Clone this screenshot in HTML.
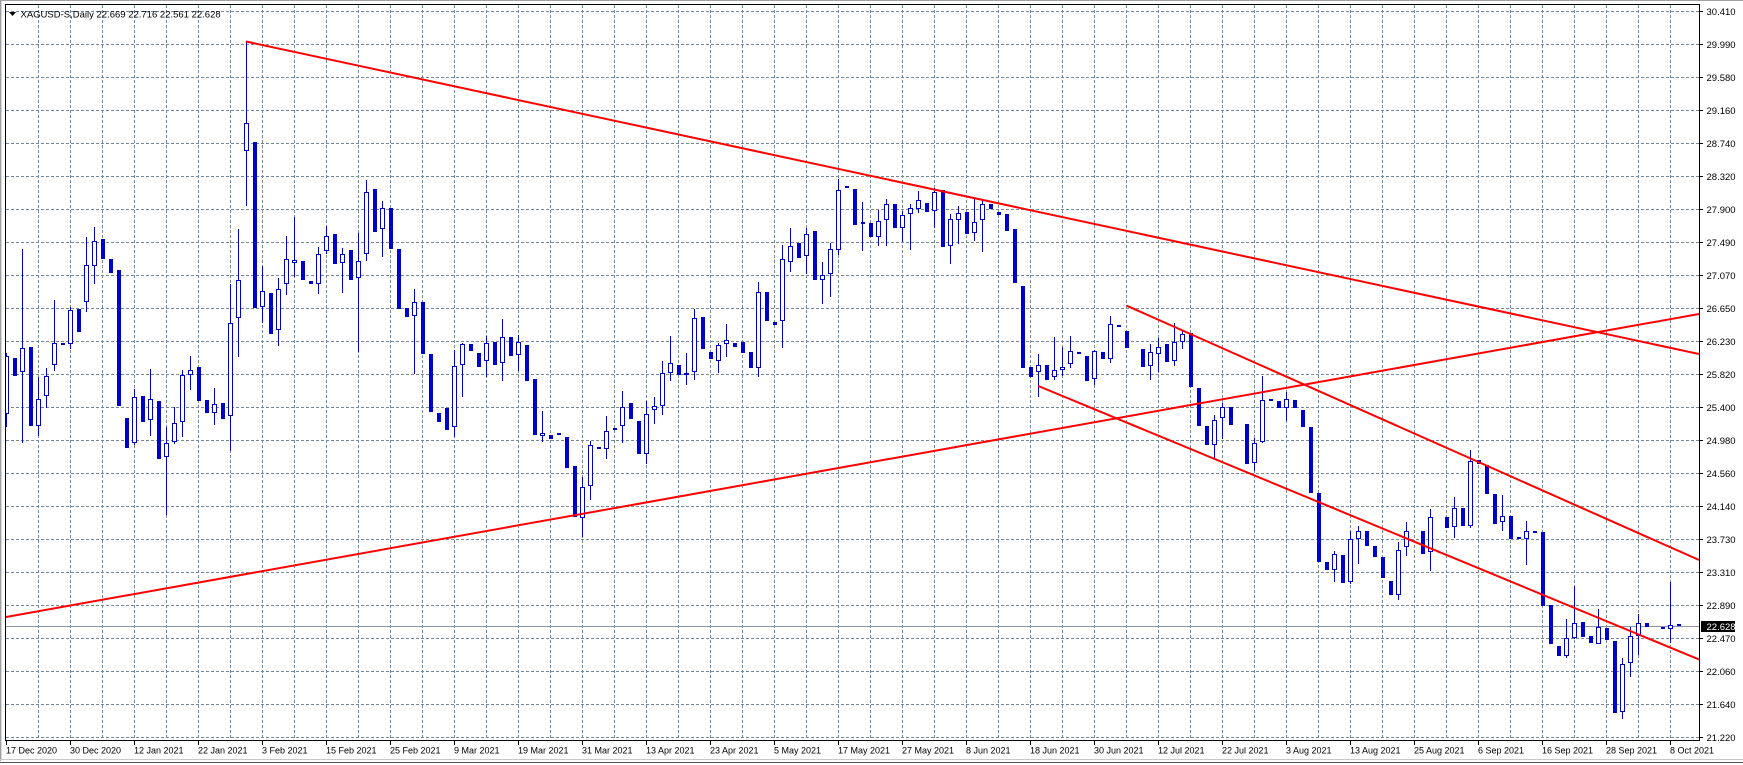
<!DOCTYPE html>
<html>
<head>
<meta charset="utf-8">
<style>
html,body{margin:0;padding:0;background:#fff;}
svg{display:block;}
text{font-family:"Liberation Sans",Arial,sans-serif;fill:#000;}
</style>
</head>
<body>
<svg width="1743" height="765" viewBox="0 0 1743 765" xmlns="http://www.w3.org/2000/svg">
<defs>
<clipPath id="pc"><rect x="6" y="5" width="1693" height="735"/></clipPath>
</defs>
<rect x="0" y="0" width="1743" height="765" fill="#fff"/>
<!-- window frame -->
<path d="M0 0.5H1743" stroke="#a0a0a0" stroke-width="1"/>
<path d="M0.5 0V761" stroke="#a0a0a0" stroke-width="1"/>
<path d="M1.5 1V760" stroke="#d8d8d8" stroke-width="1"/>
<path d="M0 759.5H1743" stroke="#c8c8c8" stroke-width="1"/>
<path d="M0 762.5H1743" stroke="#555" stroke-width="1"/>

<!-- grid -->
<g stroke="#778899" stroke-width="1" stroke-dasharray="3 2" fill="none">
<path d="M6 11.5H1699M6 44.5H1699M6 77.5H1699M6 110.5H1699M6 143.5H1699M6 176.5H1699M6 209.5H1699M6 242.5H1699M6 275.5H1699M6 308.5H1699M6 341.5H1699M6 374.5H1699M6 407.5H1699M6 440.5H1699M6 473.5H1699M6 506.5H1699M6 539.5H1699M6 572.5H1699M6 605.5H1699M6 638.5H1699M6 671.5H1699M6 704.5H1699M6 737.5H1699"/>
<path d="M38.5 5V740M70.5 5V740M102.5 5V740M134.5 5V740M166.5 5V740M198.5 5V740M230.5 5V740M262.5 5V740M294.5 5V740M326.5 5V740M358.5 5V740M390.5 5V740M422.5 5V740M454.5 5V740M486.5 5V740M518.5 5V740M550.5 5V740M582.5 5V740M614.5 5V740M646.5 5V740M678.5 5V740M710.5 5V740M742.5 5V740M774.5 5V740M806.5 5V740M838.5 5V740M870.5 5V740M902.5 5V740M934.5 5V740M966.5 5V740M998.5 5V740M1030.5 5V740M1062.5 5V740M1094.5 5V740M1126.5 5V740M1158.5 5V740M1190.5 5V740M1222.5 5V740M1254.5 5V740M1286.5 5V740M1318.5 5V740M1350.5 5V740M1382.5 5V740M1414.5 5V740M1446.5 5V740M1478.5 5V740M1510.5 5V740M1542.5 5V740M1574.5 5V740M1606.5 5V740M1638.5 5V740M1670.5 5V740"/>
</g>

<g clip-path="url(#pc)">
<!-- bid line -->
<path d="M6 626.5H1699" stroke="#8a96a3" stroke-width="1"/>

<!-- wicks -->
<path stroke="#0000cd" stroke-width="1" fill="none" d="M6.5 353V427M22.5 249V443M38.5 377V436M46.5 368V408M54.5 300V371M70.5 307V349M86.5 237V312M94.5 227V284M134.5 389V445M150.5 369V436M166.5 427V515M174.5 407V444M182.5 370V437M190.5 356V390M214.5 388V425M230.5 284V451M238.5 229V357M246.5 42V206M262.5 266V323M278.5 278V346M286.5 236V295M294.5 217V277M318.5 247V294M326.5 226V254M342.5 248V293M358.5 233V352M366.5 180V261M382.5 201V257M414.5 289V374M454.5 350V437M462.5 343V397M486.5 336V377M502.5 319V381M518.5 335V371M542.5 411V442M582.5 477V537M590.5 441V500M606.5 416V459M622.5 391V443M646.5 401V464M654.5 397V424M662.5 361V415M670.5 336V381M686.5 353V385M694.5 309V380M718.5 343V373M726.5 324V357M758.5 282V377M782.5 245V348M790.5 228V272M806.5 228V274M822.5 262V304M830.5 243V297M838.5 179V255M862.5 202V251M878.5 210V246M886.5 199V246M902.5 211V242M910.5 204V250M918.5 191V213M934.5 188V228M950.5 214V264M958.5 206V244M974.5 197V241M982.5 199V252M1038.5 354V397M1054.5 337V380M1062.5 347V376M1070.5 336V368M1094.5 350V385M1110.5 316V363M1150.5 344V380M1158.5 338V372M1174.5 323V366M1182.5 330V349M1214.5 415V458M1222.5 403V439M1254.5 438V471M1262.5 376V443M1286.5 392V421M1334.5 551V582M1350.5 531V584M1358.5 526V564M1398.5 542V600M1406.5 522V556M1430.5 509V571M1454.5 497V538M1470.5 450V528M1502.5 495V531M1526.5 521V565M1566.5 619V658M1574.5 586V639M1598.5 609V644M1622.5 658V719M1630.5 627V677M1638.5 614V655M1670.5 582V643"/>

<!-- bull bodies -->
<path fill="#fff" stroke="#0000cd" stroke-width="1" d="M4.5 356.5h4v57h-4zM20.5 348.5h4v23h-4zM36.5 399.5h4v26h-4zM44.5 376.5h4v19h-4zM52.5 343.5h4v21h-4zM68.5 310.5h4v33h-4zM84.5 265.5h4v36h-4zM92.5 241.5h4v24h-4zM132.5 397.5h4v45h-4zM148.5 399.5h4v20h-4zM164.5 443.5h4v13h-4zM172.5 423.5h4v18h-4zM180.5 375.5h4v46h-4zM188.5 370.5h4v4h-4zM212.5 404.5h4v8h-4zM228.5 323.5h4v92h-4zM236.5 280.5h4v37h-4zM244.5 123.5h4v27h-4zM260.5 291.5h4v15h-4zM276.5 289.5h4v40h-4zM284.5 259.5h4v24h-4zM292.5 260.5h4v2h-4zM316.5 254.5h4v29h-4zM324.5 236.5h4v14h-4zM340.5 254.5h4v8h-4zM356.5 261.5h4v16h-4zM364.5 192.5h4v61h-4zM380.5 208.5h4v20h-4zM412.5 302.5h4v13h-4zM452.5 366.5h4v60h-4zM460.5 344.5h4v20h-4zM484.5 343.5h4v17h-4zM500.5 337.5h4v25h-4zM516.5 342.5h4v12h-4zM540.5 433.5h4v2h-4zM580.5 487.5h4v30h-4zM588.5 445.5h4v40h-4zM604.5 431.5h4v17h-4zM620.5 407.5h4v18h-4zM644.5 414.5h4v39h-4zM652.5 406.5h4v3h-4zM660.5 373.5h4v32h-4zM668.5 363.5h4v9h-4zM684.5 373.5h4v1h-4zM692.5 318.5h4v53h-4zM716.5 345.5h4v15h-4zM724.5 340.5h4v3h-4zM756.5 292.5h4v75h-4zM780.5 259.5h4v61h-4zM788.5 246.5h4v15h-4zM804.5 234.5h4v21h-4zM820.5 275.5h4v4h-4zM828.5 249.5h4v24h-4zM836.5 190.5h4v59h-4zM876.5 221.5h4v15h-4zM884.5 204.5h4v15h-4zM900.5 215.5h4v12h-4zM908.5 208.5h4v5h-4zM916.5 200.5h4v8h-4zM932.5 192.5h4v18h-4zM948.5 219.5h4v26h-4zM956.5 213.5h4v6h-4zM972.5 222.5h4v10h-4zM980.5 204.5h4v15h-4zM1036.5 365.5h4v6h-4zM1052.5 370.5h4v6h-4zM1060.5 367.5h4v2h-4zM1068.5 351.5h4v12h-4zM1092.5 351.5h4v27h-4zM1108.5 324.5h4v34h-4zM1148.5 352.5h4v13h-4zM1156.5 347.5h4v6h-4zM1172.5 342.5h4v18h-4zM1180.5 334.5h4v7h-4zM1212.5 420.5h4v24h-4zM1220.5 407.5h4v10h-4zM1252.5 443.5h4v19h-4zM1260.5 400.5h4v41h-4zM1284.5 399.5h4v8h-4zM1332.5 554.5h4v15h-4zM1348.5 539.5h4v42h-4zM1356.5 531.5h4v7h-4zM1396.5 550.5h4v44h-4zM1404.5 531.5h4v15h-4zM1428.5 517.5h4v34h-4zM1452.5 508.5h4v18h-4zM1468.5 461.5h4v64h-4zM1500.5 516.5h4v5h-4zM1524.5 531.5h4v7h-4zM1564.5 638.5h4v17h-4zM1572.5 623.5h4v14h-4zM1596.5 627.5h4v16h-4zM1620.5 664.5h4v47h-4zM1628.5 636.5h4v26h-4zM1636.5 623.5h4v12h-4zM1668.5 625.5h4v3h-4z"/>

<!-- bear bodies -->
<path fill="#0000cd" stroke="none" d="M13 358h4v18h-4zM29 347h4v79h-4zM61 343h4v2h-4zM77 309h4v23h-4zM101 239h4v20h-4zM109 259h4v14h-4zM117 270h4v136h-4zM125 418h4v30h-4zM141 396h4v26h-4zM157 401h4v58h-4zM197 367h4v34h-4zM205 400h4v13h-4zM221 403h4v16h-4zM253 142h4v166h-4zM269 293h4v41h-4zM301 261h4v19h-4zM309 281h4v3h-4zM333 234h4v30h-4zM349 250h4v30h-4zM373 189h4v43h-4zM389 208h4v41h-4zM397 249h4v60h-4zM405 308h4v9h-4zM421 302h4v52h-4zM429 354h4v58h-4zM437 413h4v9h-4zM445 408h4v22h-4zM469 344h4v7h-4zM477 353h4v14h-4zM493 342h4v23h-4zM509 337h4v19h-4zM525 345h4v36h-4zM533 379h4v56h-4zM549 435h4v4h-4zM557 433h4v2h-4zM565 437h4v31h-4zM573 466h4v51h-4zM597 447h4v2h-4zM613 428h4v2h-4zM629 403h4v16h-4zM637 421h4v33h-4zM677 365h4v10h-4zM701 317h4v32h-4zM709 352h4v7h-4zM733 343h4v4h-4zM741 342h4v11h-4zM749 352h4v16h-4zM765 292h4v29h-4zM773 322h4v3h-4zM797 243h4v15h-4zM813 231h4v49h-4zM845 186h4v2h-4zM853 189h4v36h-4zM861 222h4v2h-4zM869 223h4v14h-4zM893 204h4v24h-4zM925 203h4v9h-4zM941 190h4v57h-4zM965 212h4v22h-4zM989 204h4v5h-4zM997 212h4v3h-4zM1005 214h4v17h-4zM1013 229h4v54h-4zM1021 286h4v82h-4zM1029 367h4v10h-4zM1045 365h4v15h-4zM1077 352h4v2h-4zM1085 356h4v25h-4zM1101 352h4v7h-4zM1117 325h4v2h-4zM1125 331h4v17h-4zM1141 349h4v18h-4zM1165 344h4v18h-4zM1189 333h4v54h-4zM1197 388h4v38h-4zM1205 426h4v19h-4zM1229 407h4v18h-4zM1245 424h4v40h-4zM1269 399h4v2h-4zM1277 401h4v7h-4zM1293 400h4v8h-4zM1301 410h4v17h-4zM1309 427h4v66h-4zM1317 493h4v69h-4zM1325 562h4v8h-4zM1341 555h4v28h-4zM1365 531h4v15h-4zM1373 546h4v11h-4zM1381 557h4v21h-4zM1389 581h4v14h-4zM1421 531h4v23h-4zM1445 517h4v11h-4zM1461 508h4v18h-4zM1477 460h4v4h-4zM1485 465h4v29h-4zM1493 494h4v30h-4zM1509 516h4v23h-4zM1517 537h4v2h-4zM1533 531h4v2h-4zM1541 532h4v74h-4zM1549 605h4v39h-4zM1557 646h4v10h-4zM1581 622h4v15h-4zM1589 636h4v7h-4zM1605 628h4v12h-4zM1613 641h4v72h-4zM1645 623h4v4h-4zM1661 627h4v2h-4zM1677 624h4v2h-4z"/>

<!-- trend lines -->
<g stroke="#ff0000" stroke-width="2" fill="none">
<path d="M246 41.5L1699 354"/>
<path d="M6 617L1699 314"/>
<path d="M1126.7 305.7L1699 560"/>
<path d="M1038.3 386L1699 659.5"/>
</g>
</g>

<!-- plot border -->
<rect x="5.5" y="4.5" width="1694" height="736" fill="none" stroke="#000" stroke-width="1"/>

<!-- title -->
<polygon points="9,12 16,12 12.5,16" fill="#000"/>
<text x="20.5" y="17.5" font-size="9.5">XAGUSD-S,Daily  22.669 22.716 22.561 22.628</text>

<!-- price axis ticks -->
<path stroke="#000" stroke-width="1" d="M1700 11.5H1703M1700 44.5H1703M1700 77.5H1703M1700 110.5H1703M1700 143.5H1703M1700 176.5H1703M1700 209.5H1703M1700 242.5H1703M1700 275.5H1703M1700 308.5H1703M1700 341.5H1703M1700 374.5H1703M1700 407.5H1703M1700 440.5H1703M1700 473.5H1703M1700 506.5H1703M1700 539.5H1703M1700 572.5H1703M1700 605.5H1703M1700 638.5H1703M1700 671.5H1703M1700 704.5H1703M1700 737.5H1703"/>
<g font-size="9.5">
<text x="1706.5" y="15">30.410</text>
<text x="1706.5" y="48">29.990</text>
<text x="1706.5" y="81">29.580</text>
<text x="1706.5" y="114">29.160</text>
<text x="1706.5" y="147">28.740</text>
<text x="1706.5" y="180">28.320</text>
<text x="1706.5" y="213">27.900</text>
<text x="1706.5" y="246">27.490</text>
<text x="1706.5" y="279">27.070</text>
<text x="1706.5" y="312">26.650</text>
<text x="1706.5" y="345">26.230</text>
<text x="1706.5" y="378">25.820</text>
<text x="1706.5" y="411">25.400</text>
<text x="1706.5" y="444">24.980</text>
<text x="1706.5" y="477">24.560</text>
<text x="1706.5" y="510">24.140</text>
<text x="1706.5" y="543">23.730</text>
<text x="1706.5" y="576">23.310</text>
<text x="1706.5" y="609">22.890</text>
<text x="1706.5" y="642">22.470</text>
<text x="1706.5" y="675">22.060</text>
<text x="1706.5" y="708">21.640</text>
<text x="1706.5" y="741">21.220</text>
</g>
<rect x="1701" y="621" width="34" height="11" fill="#000"/>
<text x="1706.5" y="630" font-size="9.5" style="fill:#fff">22.628</text>

<!-- date axis ticks -->
<path stroke="#000" stroke-width="1" d="M6.5 741V745M70.5 741V745M134.5 741V745M198.5 741V745M262.5 741V745M326.5 741V745M390.5 741V745M454.5 741V745M518.5 741V745M582.5 741V745M646.5 741V745M710.5 741V745M774.5 741V745M838.5 741V745M902.5 741V745M966.5 741V745M1030.5 741V745M1094.5 741V745M1158.5 741V745M1222.5 741V745M1286.5 741V745M1350.5 741V745M1414.5 741V745M1478.5 741V745M1542.5 741V745M1606.5 741V745M1670.5 741V745"/>
<g font-size="9">
<text x="6" y="753.5">17 Dec 2020</text>
<text x="70" y="753.5">30 Dec 2020</text>
<text x="134" y="753.5">12 Jan 2021</text>
<text x="198" y="753.5">22 Jan 2021</text>
<text x="262" y="753.5">3 Feb 2021</text>
<text x="326" y="753.5">15 Feb 2021</text>
<text x="390" y="753.5">25 Feb 2021</text>
<text x="454" y="753.5">9 Mar 2021</text>
<text x="518" y="753.5">19 Mar 2021</text>
<text x="582" y="753.5">31 Mar 2021</text>
<text x="646" y="753.5">13 Apr 2021</text>
<text x="710" y="753.5">23 Apr 2021</text>
<text x="774" y="753.5">5 May 2021</text>
<text x="838" y="753.5">17 May 2021</text>
<text x="902" y="753.5">27 May 2021</text>
<text x="966" y="753.5">8 Jun 2021</text>
<text x="1030" y="753.5">18 Jun 2021</text>
<text x="1094" y="753.5">30 Jun 2021</text>
<text x="1158" y="753.5">12 Jul 2021</text>
<text x="1222" y="753.5">22 Jul 2021</text>
<text x="1286" y="753.5">3 Aug 2021</text>
<text x="1350" y="753.5">13 Aug 2021</text>
<text x="1414" y="753.5">25 Aug 2021</text>
<text x="1478" y="753.5">6 Sep 2021</text>
<text x="1542" y="753.5">16 Sep 2021</text>
<text x="1606" y="753.5">28 Sep 2021</text>
<text x="1670" y="753.5">8 Oct 2021</text>
</g>
</svg>
</body>
</html>
